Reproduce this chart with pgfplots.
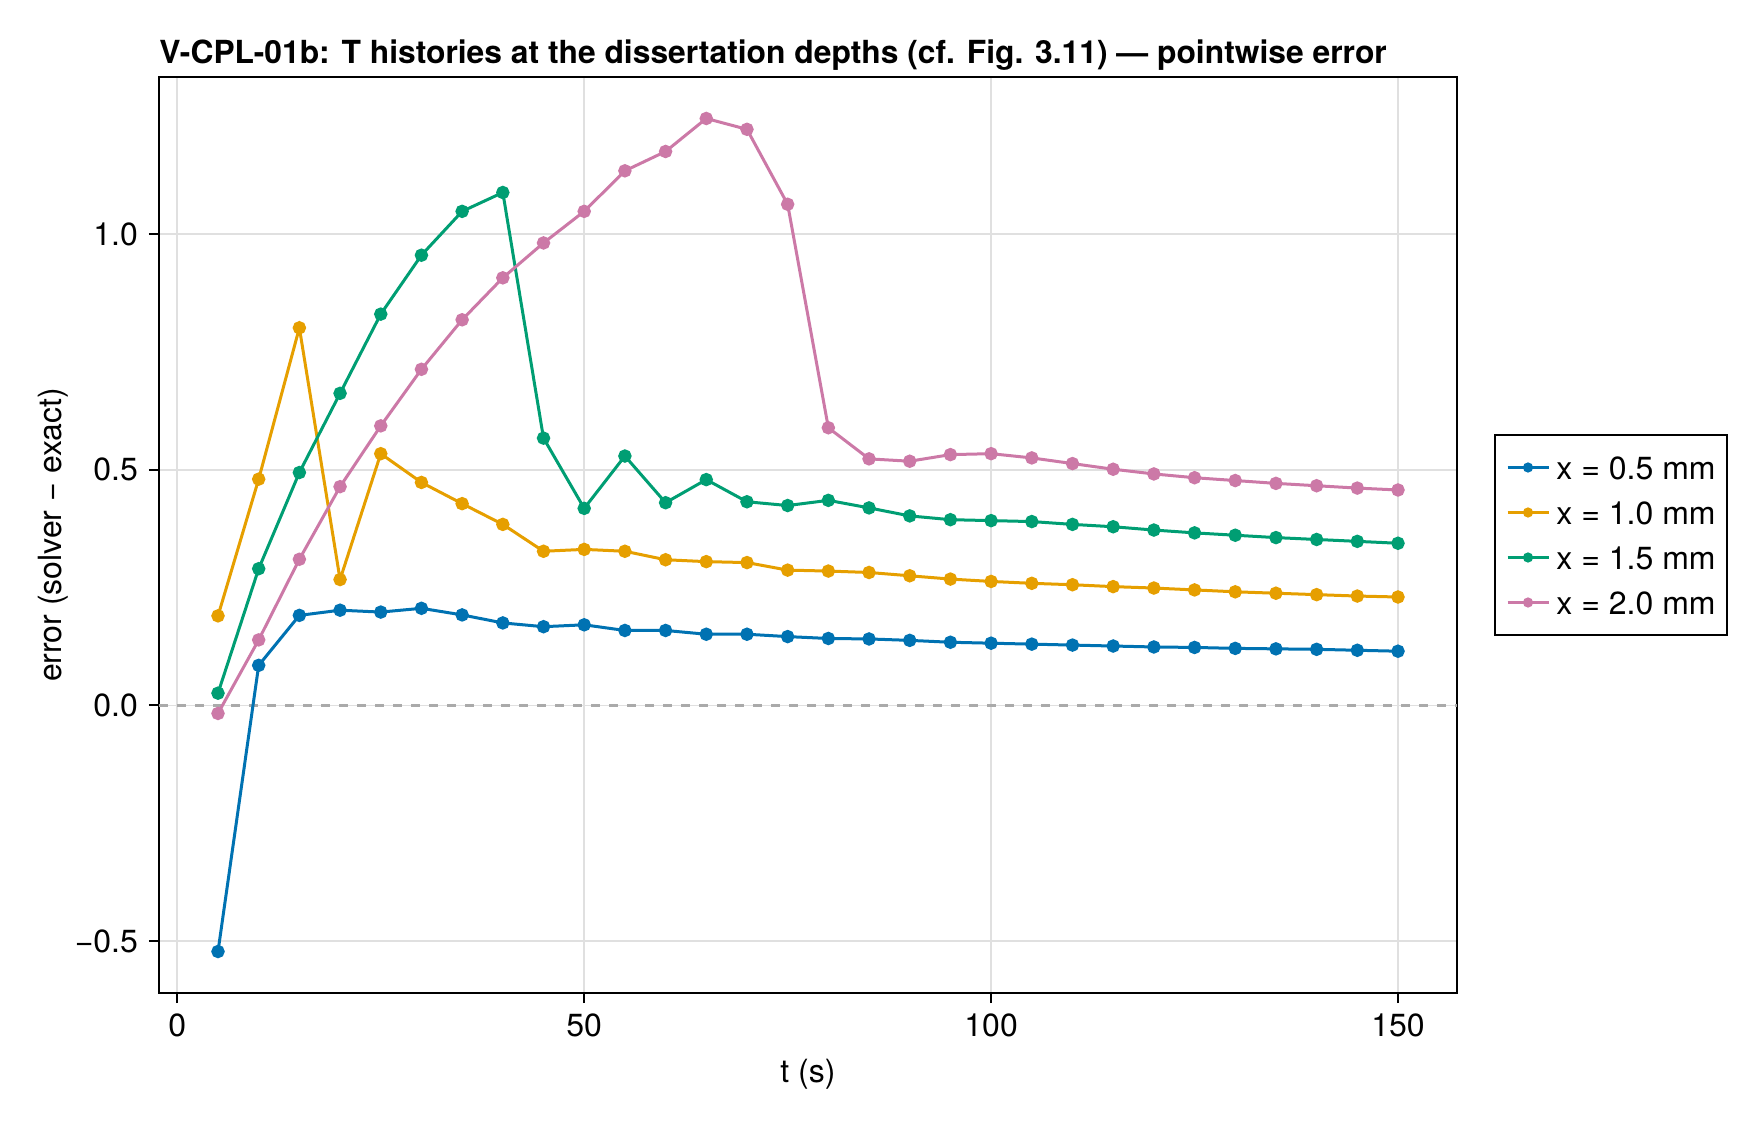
\documentclass[border=0pt]{standalone}
\usepackage{fontspec}
\setmainfont{TeX Gyre Heros}
\usepackage{pgfplots}
\pgfplotsset{compat=1.18}
\usepackage{pgfplotstable}

% Wong palette
\definecolor{cblue}{RGB}{0,114,178}
\definecolor{corange}{RGB}{230,159,0}
\definecolor{cgreen}{RGB}{0,158,115}
\definecolor{cpink}{RGB}{204,121,167}
\definecolor{gridgray}{RGB}{224,224,224}
\definecolor{zerogray}{RGB}{170,170,170}

% pointwise error (solver - exact) at four depths
\pgfplotstableread{
t    e05     e10    e15    e20
5   -0.522   0.190  0.026 -0.017
10   0.085   0.480  0.290  0.139
15   0.191   0.801  0.494  0.310
20   0.202   0.267  0.662  0.464
25   0.198   0.534  0.830  0.593
30   0.206   0.473  0.955  0.713
35   0.192   0.428  1.048  0.818
40   0.175   0.384  1.088  0.907
45   0.167   0.327  0.567  0.981
50   0.171   0.331  0.418  1.048
55   0.159   0.327  0.529  1.134
60   0.159   0.309  0.430  1.175
65   0.151   0.305  0.479  1.245
70   0.151   0.303  0.432  1.222
75   0.146   0.287  0.424  1.063
80   0.142   0.285  0.435  0.589
85   0.141   0.282  0.419  0.523
90   0.138   0.275  0.402  0.518
95   0.134   0.268  0.394  0.532
100  0.132   0.263  0.392  0.534
105  0.130   0.259  0.390  0.525
110  0.128   0.256  0.384  0.513
115  0.126   0.252  0.379  0.501
120  0.124   0.249  0.372  0.491
125  0.123   0.245  0.366  0.483
130  0.121   0.241  0.361  0.477
135  0.120   0.238  0.356  0.471
140  0.119   0.235  0.352  0.466
145  0.117   0.232  0.348  0.461
150  0.115   0.230  0.344  0.457
}\errtable

\pgfplotsset{
  series/.style={line width=1.5pt, color=#1, mark=*, mark size=2.6pt,
    mark options={solid, fill=#1, draw=none}},
}

\begin{document}
\fontsize{16}{19.2}\selectfont
\begin{tikzpicture}
\useasboundingbox (-79.5pt,-63.5pt) rectangle (800.5pt,496.5pt);
\begin{axis}[
  at={(0pt,0pt)}, anchor=south west,
  scale only axis, width=649pt, height=458pt,
  xmin=-2.25, xmax=157.25, ymin=-0.610, ymax=1.333,
  xtick={0,50,100,150}, xticklabels={0,50,100,150},
  ytick={-0.5,0,0.5,1}, yticklabels={−0.5,0.0,0.5,1.0},
  tick align=outside, tick pos=left, major tick length=5pt,
  every tick/.style={black, line width=1pt},
  axis line style={line width=1pt},
  grid=major, major grid style={line width=0.9pt, color=gridgray},
  ticklabel style={font=\fontsize{16}{19.2}\selectfont},
  title={V-CPL-01b: T histories at the dissertation depths (cf. Fig. 3.11) — pointwise error},
  title style={at={(rel axis cs:0,1)}, anchor=base west, yshift=0.5pt,
    inner sep=0pt, font=\fontsize{15.9}{19}\selectfont\bfseries},
  xlabel={t (s)}, ylabel={error (solver − exact)},
  xlabel style={at={(rel axis cs:0.5,0)}, anchor=center, yshift=-40.5pt,
    font=\fontsize{16}{19.2}\selectfont},
  ylabel style={at={(rel axis cs:0,0.5)}, anchor=center, yshift=53pt,
    font=\fontsize{16}{19.2}\selectfont},
  legend style={at={(rel axis cs:1,0.5)}, anchor=west, xshift=18.5pt,
    draw=black, line width=1pt, inner xsep=5.5pt, inner ysep=7.5pt,
    row sep=5pt, font=\fontsize{16}{19.2}\selectfont,
    /tikz/every odd column/.append style={column sep=3.2pt},
    nodes={inner xsep=0pt, inner ysep=3pt, text height=11.5pt, text depth=0pt}},
  legend cell align=left,
  legend image code/.code={
    \draw[mark repeat=2, mark phase=2, mark size=1.75pt]
      plot coordinates {(0pt,0pt) (10.25pt,0pt) (20.5pt,0pt)};},
]
\addplot[forget plot, color=zerogray, line width=1.5pt, dash pattern=on 4.5pt off 4.5pt]
  coordinates {(-2.25,0) (157.25,0)};
\addplot[series=cblue]   table[x=t, y=e05] {\errtable};
\addlegendentry{x = 0.5 mm}
\addplot[series=corange] table[x=t, y=e10] {\errtable};
\addlegendentry{x = 1.0 mm}
\addplot[series=cgreen]  table[x=t, y=e15] {\errtable};
\addlegendentry{x = 1.5 mm}
\addplot[series=cpink]   table[x=t, y=e20] {\errtable};
\addlegendentry{x = 2.0 mm}
\end{axis}
\end{tikzpicture}
\end{document}
